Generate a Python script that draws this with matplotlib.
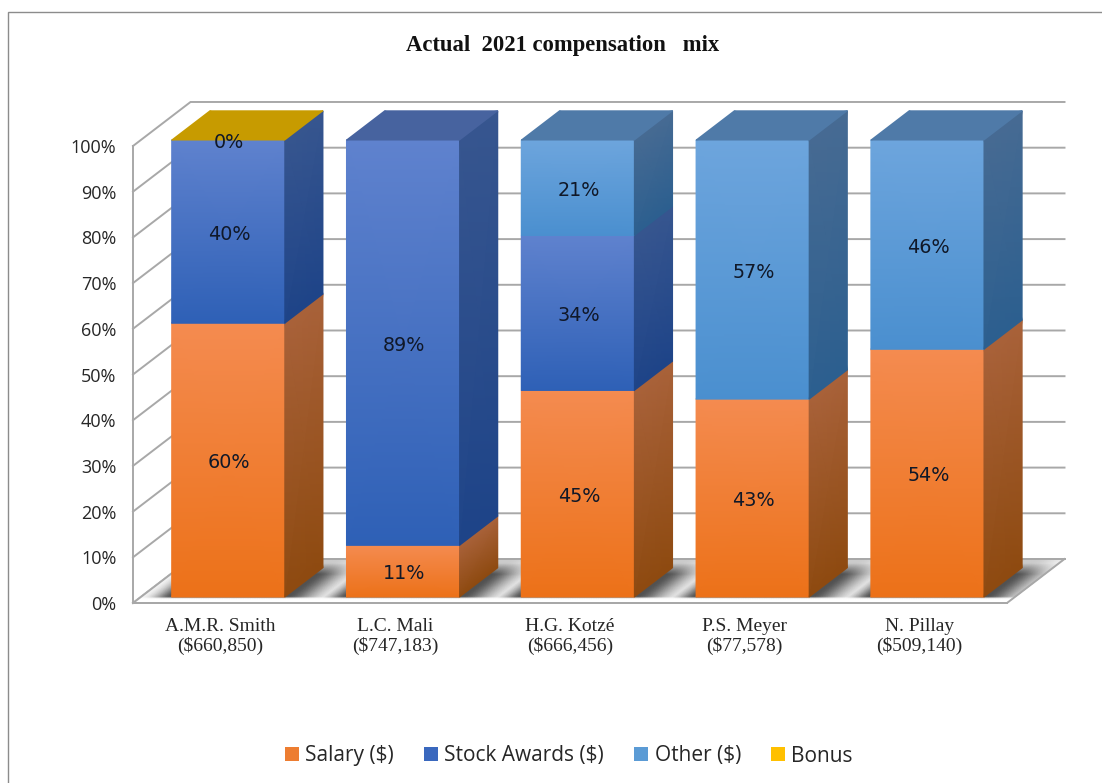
import numpy as np
import matplotlib
matplotlib.use("Agg")
import matplotlib.pyplot as plt
from matplotlib.patches import Patch, Rectangle

# ---- data ----
names = ["A.M.R. Smith\n($660,850)", "L.C. Mali\n($747,183)", "H.G. Kotzé\n($666,456)",
         "P.S. Meyer\n($77,578)", "N. Pillay\n($509,140)"]
salary = [59.9, 11.3, 45.2, 43.3, 54.2]
stock = [40.1, 88.7, 33.9, np.nan, np.nan]
other = [np.nan, np.nan, 20.9, 56.7, 45.8]
bonus = [0.0, np.nan, np.nan, np.nan, np.nan]
series_names = ["Salary ($)", "Stock Awards ($)", "Other ($)", "Bonus"]
yticks = [0, 10, 20, 30, 40, 50, 60, 70, 80, 90, 100]
title = "Actual  2021 compensation   mix"

# ---- styles ----
W, H = 1102, 783
GRID = "#a8a8a8"
SERIF = "Liberation Serif"
legend_cols = ["#ED7D31", "#3A68BE", "#5B9BD5", "#FFC000"]
front_cols = [("#F48B50", "#EC7118"), ("#5F82CE", "#2E60B6"), ("#6DA5DD", "#4A8FCF"), ("#FFC000", "#FFC000")]
side_cols = [("#A9623A", "#8E4A10"), ("#37568F", "#1E4488"), ("#476B93", "#2C5F8F"), ("#A07800", "#A07800")]
top_cols = ["#C9791F", "#47639F", "#4F7AA8", "#C79B00"]
SHEAR_X, SHEAR_Y = 0.329, 9.63   # projection per unit of depth
D0, D1 = 0.136, 0.80             # bar extent in depth
BAR_W = 0.647

fig = plt.figure(figsize=(W / 100, H / 100), dpi=100, facecolor="white")
ax = fig.add_axes([133 / W, 1 - 603 / H, 874 / W, 457 / H])
ax.set_facecolor("none")


def proj(x, y, d):
    return x + SHEAR_X * np.asarray(d), y + SHEAR_Y * np.asarray(d)


def quad(x0, x1, y0, y1, d0, d1, c_low, c_high, z):
    """Gradient quad between two corners in (x, y, depth) space; top edge gets c_high."""
    xs = np.array([[x0, x1], [x0, x1]], float)
    ys = np.array([[y0, y0], [y1, y1]], float)
    ds = np.array([[d0, d1], [d0, d1]], float)
    px, py = proj(xs, ys, ds)
    cl = matplotlib.colors.to_rgba(c_low)
    ch = matplotlib.colors.to_rgba(c_high)
    ax.pcolormesh(px, py, np.array([[cl, cl], [ch, ch]]), shading="gouraud", clip_on=False, zorder=z, antialiased=True)


# Walls: grid lines
for t in yticks:
    xa, ya = proj(np.array([0, 0, 5.0]), np.array([t, t, t], float), np.array([0, 1, 1.0]))
    ax.plot(xa, ya, color=GRID, lw=1.4, clip_on=False, zorder=1, solid_joinstyle="miter")

# Floor with soft shadows around the bars
n = len(names)
us = np.linspace(0, 5, 501)
ds = np.linspace(0, 1, 81)
U, Dp = np.meshgrid(us, ds)
dark = np.zeros_like(U)
for i in range(n):
    a, b = i + 0.5 - BAR_W / 2, i + 0.5 + BAR_W / 2
    dist = np.maximum(np.maximum(a - U, U - b), 0)
    scale = np.where(U > b, 0.16, 0.10)
    dark = np.maximum(dark, np.exp(-(dist / scale) ** 2))
fade = np.clip((Dp - 0.11) / 0.05, 0, 1) * np.clip((1.02 - Dp) / 0.35, 0.3, 1)
shade = 1 - 0.68 * dark * fade
Fx, Fy = proj(U, np.zeros_like(U), Dp)
ax.pcolormesh(Fx, Fy, np.dstack([shade, shade, shade, np.ones_like(shade)]), shading="gouraud",
              clip_on=False, zorder=2)
ex, ey = proj(np.array([0, 5.0, 5.0]), np.zeros(3), np.array([0, 0, 1.0]))
ax.plot(ex, ey, color=GRID, lw=1.4, clip_on=False, zorder=3)
bx, by = proj(np.array([0, 5.0]), np.zeros(2), np.array([1.0, 1.0]))
ax.plot(bx, by, color=GRID, lw=1.4, clip_on=False, zorder=2.5)
lx, ly = proj(np.array([0, 0.0]), np.zeros(2), np.array([0, 1.0]))
ax.plot(lx, ly, color=GRID, lw=1.4, clip_on=False, zorder=2.5)

# Bars
series = [salary, stock, other, bonus]
for i in range(n):
    x0, x1 = i + 0.5 - BAR_W / 2, i + 0.5 + BAR_W / 2
    base = 0.0
    last = 0
    z = 5 + i
    for s, vals in enumerate(series):
        v = vals[i]
        if np.isnan(v):
            continue
        last = s
        if v > 0:
            quad(x0, x1, base, base + v, D0, D0, front_cols[s][1], front_cols[s][0], z)
            quad(x1, x1, base, base + v, D0, D1, side_cols[s][1], side_cols[s][0], z)
        lx_, ly_ = proj(i + 0.5, base + v / 2, D0)
        ax.annotate(f"{v:.0f}%", (lx_, ly_), xytext=(0.7, -2), textcoords="offset points",
                    ha="center", va="center", fontsize=13.8, color="#101828",
                    family="DejaVu Sans", annotation_clip=False, zorder=30)
        base += v
    xs = np.array([[x0, x1], [x0, x1]], float)
    dd = np.array([[D0, D0], [D1, D1]], float)
    px, py = proj(xs, np.full((2, 2), base), dd)
    c = matplotlib.colors.to_rgba(top_cols[last])
    ax.pcolormesh(px, py, np.array([[c, c], [c, c]]), shading="gouraud", clip_on=False, zorder=z)

# Axes
ax.set_xlim(0, 5)
ax.set_ylim(0, 100)
ax.set_xticks([i + 0.5 for i in range(n)])
ax.set_xticklabels(names, family=SERIF, fontsize=14, color="#262626", linespacing=1.15)
ax.set_yticks(yticks)
ax.set_yticklabels([f"{t}%" for t in yticks], family="Open Sans", fontsize=13, color="#262626")
ax.tick_params(axis="both", length=0)
ax.tick_params(axis="x", pad=11)
ax.tick_params(axis="y", pad=12)
for name, sp in ax.spines.items():
    sp.set_visible(name in ("left", "bottom"))
    sp.set_color(GRID)
    sp.set_linewidth(1.4)

fig.text(562.5 / W, 1 - 45 / H, title, ha="center", va="center", family=SERIF, fontweight="bold",
         fontsize=16.3, color="#111111")

handles = [Patch(facecolor=c, edgecolor="none") for c in legend_cols]
fig.legend(handles, series_names, loc="center", bbox_to_anchor=(569 / W, 1 - 756 / H), ncol=4, frameon=False,
           prop={"family": "Open Sans", "size": 15}, handlelength=0.65, handleheight=0.65,
           handletextpad=0.32, columnspacing=1.45, labelcolor="#262626")

# Outer chart border
fig.add_artist(Rectangle((8 / W, -0.05), 1.1, 1 - 12 / H + 0.05, transform=fig.transFigure,
                         fill=False, edgecolor="#8c8c8c", lw=1.0, clip_on=True))

fig.savefig("out.png", dpi=100)
